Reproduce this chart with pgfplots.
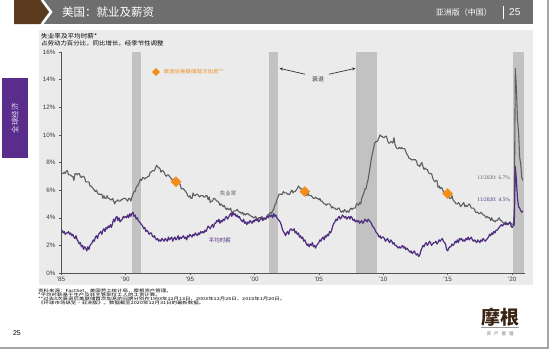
\documentclass[border=0pt]{standalone}
\usepackage{pgfplots}
\pgfplotsset{compat=1.18}
\usepackage{pgfplotstable}
\usepackage{graphicx}
\usepackage{fontspec}
\setmainfont{Liberation Sans}
\newfontfamily\cjk{Noto Sans CJK SC}
\newfontfamily\serifnum{Liberation Serif}
\usetikzlibrary{arrows.meta}
\newcommand{\fs}[2]{\fontsize{#1bp}{#2bp}\selectfont}
\definecolor{hdr}{HTML}{6E6E6E}
\definecolor{jpbrown}{HTML}{5B3A1E}
\definecolor{panel}{HTML}{EBEBEB}
\definecolor{tabpurple}{HTML}{5A2D8C}
\definecolor{unemp}{HTML}{5F5F5F}
\definecolor{wage}{HTML}{4F2D7F}
\definecolor{jporange}{HTML}{F28E1C}
\definecolor{rec}{HTML}{C2C2C2}
\definecolor{axgray}{HTML}{555555}
\definecolor{tickgray}{HTML}{3A3A3A}
\definecolor{logobrown}{HTML}{3A2414}

\pgfplotstableread[row sep=\\]{
u w\\
7.3 3.0\\7.2 3.1\\7.2 2.9\\7.3 3.0\\7.2 2.8\\7.4 2.9\\7.4 2.9\\7.1 3.0\\7.1 2.8\\7.1 2.9\\7.0 2.7\\7.0 2.8\\
6.7 2.6\\7.2 2.5\\7.2 2.7\\7.1 2.4\\7.2 2.3\\7.2 2.1\\7.0 2.2\\6.9 1.9\\7.0 2.0\\7.0 1.7\\6.9 1.9\\6.6 1.8\\
6.6 1.6\\6.6 1.9\\6.6 1.7\\6.3 2.0\\6.3 2.1\\6.2 2.2\\6.1 2.4\\6.0 2.3\\5.9 2.6\\6.0 2.7\\5.8 2.5\\5.7 2.8\\
5.7 2.9\\5.7 3.0\\5.7 2.8\\5.4 3.1\\5.6 3.2\\5.4 3.0\\5.4 3.3\\5.6 3.2\\5.4 3.4\\5.4 3.3\\5.3 3.5\\5.3 3.3\\
5.4 3.6\\5.2 3.9\\5.0 3.7\\5.2 4.0\\5.2 4.1\\5.3 3.8\\5.2 4.0\\5.2 3.7\\5.3 3.8\\5.3 3.9\\5.4 4.1\\5.4 4.0\\
5.4 4.1\\5.3 4.0\\5.2 4.2\\5.4 4.0\\5.4 4.3\\5.2 4.1\\5.5 4.3\\5.7 4.4\\5.9 4.1\\5.9 4.2\\6.2 3.9\\6.3 4.0\\
6.4 3.8\\6.6 3.7\\6.8 3.6\\6.7 3.5\\6.9 3.4\\6.9 3.2\\6.8 3.3\\6.9 3.0\\6.9 3.1\\7.0 3.0\\7.0 2.8\\7.3 2.9\\
7.3 2.9\\7.4 2.7\\7.4 2.6\\7.4 2.7\\7.6 2.5\\7.8 2.4\\7.7 2.5\\7.6 2.3\\7.6 2.4\\7.3 2.3\\7.4 2.5\\7.4 2.4\\
7.3 2.3\\7.1 2.5\\7.0 2.4\\7.1 2.3\\7.1 2.6\\7.0 2.4\\6.9 2.5\\6.8 2.6\\6.7 2.3\\6.8 2.5\\6.6 2.6\\6.5 2.4\\
6.6 2.5\\6.6 2.7\\6.5 2.4\\6.4 2.6\\6.1 2.5\\6.1 2.6\\6.1 2.7\\6.0 2.5\\5.9 2.6\\5.8 2.4\\5.6 2.7\\5.5 2.6\\
5.6 2.8\\5.4 2.7\\5.4 2.6\\5.8 2.8\\5.6 2.7\\5.6 2.9\\5.7 2.8\\5.7 2.7\\5.6 2.9\\5.5 2.8\\5.6 3.0\\5.6 2.9\\
5.6 3.0\\5.5 2.9\\5.5 3.1\\5.6 3.0\\5.6 3.2\\5.3 3.4\\5.5 3.3\\5.1 3.2\\5.2 3.4\\5.2 3.5\\5.4 3.3\\5.4 3.6\\
5.3 3.6\\5.2 3.8\\5.2 3.7\\5.1 3.9\\4.9 3.6\\5.0 3.8\\4.9 3.7\\4.8 3.9\\4.9 3.8\\4.7 4.0\\4.6 4.1\\4.7 3.9\\
4.6 4.0\\4.6 4.2\\4.7 4.3\\4.3 4.1\\4.4 4.4\\4.5 4.2\\4.5 4.3\\4.5 4.1\\4.6 4.2\\4.5 4.0\\4.4 4.1\\4.4 3.9\\
4.3 3.8\\4.4 3.7\\4.2 3.9\\4.3 3.6\\4.2 3.7\\4.3 3.5\\4.3 3.7\\4.2 3.6\\4.2 3.8\\4.1 3.7\\4.1 3.6\\4.0 3.8\\
4.0 3.7\\4.1 3.9\\4.0 3.8\\3.8 3.9\\4.0 3.7\\4.0 3.8\\4.0 4.0\\4.1 3.9\\3.9 3.8\\3.9 4.0\\3.9 3.9\\3.9 4.0\\
4.2 4.1\\4.2 4.0\\4.3 4.2\\4.4 4.1\\4.3 4.2\\4.5 4.0\\4.6 4.3\\4.9 4.1\\5.0 4.2\\5.3 4.0\\5.5 3.9\\5.7 3.8\\
5.7 3.7\\5.7 3.5\\5.7 3.2\\5.9 3.0\\5.8 2.9\\5.8 2.7\\5.8 2.9\\5.7 3.0\\5.7 2.8\\5.7 3.1\\5.9 3.2\\6.0 3.1\\
5.8 3.1\\5.9 3.2\\5.9 2.9\\6.0 3.0\\6.1 2.8\\6.3 2.9\\6.2 2.6\\6.1 2.7\\6.1 2.5\\6.0 2.6\\5.8 2.3\\5.7 2.4\\
5.7 2.2\\5.6 2.0\\5.8 2.1\\5.6 1.9\\5.6 2.1\\5.6 2.0\\5.5 2.2\\5.4 1.9\\5.4 2.0\\5.5 1.8\\5.4 2.0\\5.4 2.1\\
5.3 2.2\\5.4 2.4\\5.2 2.3\\5.2 2.5\\5.1 2.6\\5.0 2.4\\5.0 2.7\\4.9 2.6\\5.0 2.8\\5.0 2.7\\5.0 3.0\\4.9 2.9\\
4.7 3.1\\4.8 3.4\\4.7 3.6\\4.7 3.7\\4.6 3.9\\4.6 3.8\\4.7 4.0\\4.7 4.1\\4.5 3.9\\4.4 4.0\\4.5 4.2\\4.4 4.1\\
4.6 4.0\\4.5 4.1\\4.4 3.9\\4.5 4.0\\4.4 4.1\\4.6 3.9\\4.7 4.1\\4.6 4.0\\4.7 3.8\\4.7 3.9\\4.7 3.7\\5.0 3.8\\
5.0 3.7\\4.9 3.8\\5.1 3.6\\5.0 3.7\\5.4 3.8\\5.6 3.6\\5.8 3.7\\6.1 3.9\\6.1 3.8\\6.5 3.7\\6.8 3.9\\7.3 3.8\\
7.8 3.7\\8.3 3.6\\8.7 3.4\\9.0 3.3\\9.4 3.2\\9.5 3.0\\9.5 2.9\\9.6 2.8\\9.8 2.6\\10.0 2.7\\9.9 2.5\\9.9 2.6\\
9.8 2.6\\9.8 2.5\\9.9 2.3\\9.9 2.4\\9.6 2.5\\9.4 2.3\\9.4 2.2\\9.5 2.4\\9.5 2.3\\9.4 2.1\\9.8 2.2\\9.3 2.0\\
9.1 2.0\\9.0 1.9\\9.0 1.8\\9.1 1.9\\9.0 1.8\\9.1 1.9\\9.0 2.0\\9.0 1.8\\9.0 1.9\\8.8 1.7\\8.6 1.8\\8.5 1.7\\
8.3 1.6\\8.3 1.5\\8.2 1.6\\8.2 1.4\\8.2 1.5\\8.2 1.6\\8.2 1.4\\8.1 1.3\\7.8 1.4\\7.8 1.2\\7.7 1.3\\7.9 1.6\\
8.0 1.8\\7.7 2.0\\7.5 1.9\\7.6 2.1\\7.5 2.2\\7.5 2.0\\7.3 2.1\\7.2 2.3\\7.2 2.2\\7.2 2.0\\6.9 2.1\\6.7 2.2\\
6.6 2.2\\6.7 2.3\\6.7 2.1\\6.2 2.2\\6.3 2.4\\6.1 2.3\\6.2 2.4\\6.1 2.5\\5.9 2.3\\5.7 2.2\\5.8 2.1\\5.6 1.7\\
5.7 1.6\\5.5 1.8\\5.4 1.9\\5.4 1.9\\5.6 2.1\\5.3 2.0\\5.2 2.1\\5.1 2.3\\5.0 2.2\\5.0 2.4\\5.1 2.2\\5.0 2.5\\
4.8 2.4\\4.9 2.5\\5.0 2.3\\5.1 2.4\\4.8 2.3\\4.9 2.5\\4.8 2.4\\4.9 2.6\\5.0 2.4\\4.9 2.5\\4.7 2.6\\4.7 2.4\\
4.7 2.3\\4.6 2.4\\4.4 2.3\\4.4 2.2\\4.4 2.4\\4.3 2.3\\4.3 2.2\\4.4 2.4\\4.3 2.3\\4.2 2.5\\4.2 2.4\\4.1 2.3\\
4.0 2.4\\4.1 2.5\\4.0 2.6\\4.0 2.8\\3.8 2.7\\4.0 2.9\\3.8 2.8\\3.8 3.0\\3.7 2.9\\3.8 3.1\\3.8 3.1\\3.9 3.2\\
4.0 3.3\\3.8 3.4\\3.8 3.5\\3.7 3.4\\3.6 3.5\\3.6 3.6\\3.7 3.5\\3.6 3.6\\3.5 3.5\\3.6 3.6\\3.6 3.7\\3.6 3.4\\
3.5 3.3\\3.5 3.4\\4.4 3.5\\14.8 7.7\\13.3 6.7\\11.1 5.4\\10.2 4.8\\8.4 4.7\\7.9 4.5\\6.9 4.4\\6.7 4.5\\
}\data

\begin{document}
\begin{tikzpicture}[x=1bp,y=1bp]
\useasboundingbox (0,0) rectangle (554,354);
\fill[white] (0,0) rectangle (554,354);
% header
\fill[hdr] (14,330) rectangle (533,354);
\fill[jpbrown] (14,330) -- (14,354) -- (40,354) -- (49,342) -- (40,330) -- cycle;
\draw[white, line width=2.5bp] (42,354) -- (51,342) -- (42,330);
\node[anchor=west, text=white, inner sep=0] at (62,342) {\cjk\fs{11.5}{12}美国：就业及薪资};
\node[anchor=east, text=white, inner sep=0] at (492,341.5) {\cjk\fs{8}{9}亚洲版（中国）};
\draw[white, line width=0.7bp] (503,335) -- (503,348);
\node[anchor=west, text=white, inner sep=0] at (509,342) {\fs{10}{11}25};
% side tab
\fill[tabpurple] (2,196) rectangle (28,276);
\node[rotate=90, text=white!85!tabpurple, inner sep=0] at (15,236) {\cjk\fs{7.5}{8}全球经济};
% panel
\fill[panel] (39,69) rectangle (533,324);
\node[anchor=west, inner sep=0] at (41,318) {\scalebox{1.1}[1]{\cjk\fs{6}{7}失业率及平均时薪*}};
\node[anchor=west, inner sep=0] at (41,311) {\scalebox{1.15}[1]{\cjk\fs{5.6}{6}占劳动力百分比，同比增长，经季节性调整}};
% slide border
\draw[black!35, line width=1.5bp] (0,6) -- (548,6) -- (548,354);
% page number
\node[inner sep=0] at (17,21) {\fs{7}{8}25};
% logo
\node[text=logobrown, inner sep=0] at (500,37) {\cjk\bfseries\fs{19}{20}摩根};
\draw[black!40, line width=0.4bp] (481,27) -- (519,27);
\node[text=black!55, inner sep=0] at (500,20) {\cjk\fs{4.5}{5}资\hspace{3bp}产\hspace{3bp}管\hspace{3bp}理};
% footnotes
\node[anchor=west, inner sep=0] at (38,63) {\scalebox{1.3}[1]{\cjk\fs{4.2}{4.5}资料来源：FactSet，美国劳工统计局，摩根资产管理。}};
\node[anchor=west, inner sep=0] at (38,59) {\scalebox{1.3}[1]{\cjk\fs{4.2}{4.5}*平均时薪基于生产及非主管职位工人的工资计算。}};
\node[anchor=west, inner sep=0] at (38,55) {\scalebox{1.3}[1]{\cjk\fs{4.2}{4.5}**过去3次衰退后美联储首次加息的日期分别在1993年12月13日、2003年12月25日、2015年1月20日。}};
\node[anchor=west, inner sep=0] at (38,51) {\scalebox{1.3}[1]{\cjk\fs{4.2}{4.5}《环球市场纵览 – 亚洲版》。数据截至2020年12月31日的最新数据。}};

\begin{axis}[
  at={(61bp,81bp)}, anchor=south west, scale only axis,
  width=464bp, height=221bp,
  xmin=1985, xmax=2021, ymin=0, ymax=16,
  axis lines=left, axis line style={-, draw=axgray, line width=0.6bp},
  axis on top,
  xtick={1985,1990,1995,2000,2005,2010,2015,2020},
  xticklabels={\mbox{'85},\mbox{'90},\mbox{'95},\mbox{'00},\mbox{'05},\mbox{'10},\mbox{'15},\mbox{'20}},
  ytick={0,2,4,6,8,10,12,14,16},
  tick align=outside, major tick length=2bp,
  tick style={draw=axgray, line width=0.5bp},
  /pgf/number format/assume math mode=true,
  yticklabel={\pgfmathprintnumber{\tick}\%},
  ticklabel style={font=\fs{6.3}{7}, text=tickgray},
  xticklabel style={yshift=1bp},
]
\addplot[fill=rec, draw=none] coordinates {(1990.5,16) (1991.2,16)} \closedcycle;
\addplot[fill=rec, draw=none] coordinates {(2001.17,16) (2001.83,16)} \closedcycle;
\addplot[fill=rec, draw=none] coordinates {(2007.92,16) (2009.5,16)} \closedcycle;
\addplot[fill=rec, draw=none] coordinates {(2020.08,16) (2020.92,16)} \closedcycle;
\addplot[color=unemp, line width=1.1bp, no marks, line join=round] table[x expr=1985+\coordindex/12, y=u] {\data};
\addplot[color=wage, line width=1.2bp, no marks, line join=round] table[x expr=1985+\coordindex/12, y=w] {\data};
\addplot[only marks, mark=square*, mark size=3.6bp, mark options={rotate=45, fill=jporange, draw=jporange}] coordinates {(1993.92,6.6) (2003.92,5.9) (2015.0,5.75)};
\addplot[only marks, mark=square*, mark size=2.6bp, mark options={rotate=45, fill=jporange, draw=jporange}] coordinates {(1992.37,14.55)};
\node[anchor=west, text=jporange, inner sep=0] at (axis cs:1992.95,14.55) {\scalebox{1.1}[1]{\cjk\fs{5}{6}衰退后美联储首次加息**}};
\node[text=black!75, inner sep=0] at (axis cs:2004.94,14.05) {\cjk\fs{6}{7}衰退};
\draw[-{Stealth[length=3.5bp,width=3bp]}, line width=0.7bp, black!80] (axis cs:2003.93,14.39) -- (axis cs:2001.95,14.82);
\draw[-{Stealth[length=3.5bp,width=3bp]}, line width=0.7bp, black!80] (axis cs:2005.79,14.39) -- (axis cs:2007.85,14.82);
\node[text=unemp, inner sep=0] at (axis cs:1997.96,5.79) {\cjk\fs{5.5}{6}失业率};
\node[text=wage, inner sep=0] at (axis cs:1997.33,2.39) {\cjk\fs{5.5}{6}平均时薪};
\node[anchor=east, text=unemp, inner sep=0] at (axis cs:2019.85,6.88) {\serifnum\fs{5.5}{6}11/2020: 6.7\%};
\node[anchor=east, text=wage, inner sep=0] at (axis cs:2019.85,5.29) {\serifnum\fs{5.5}{6}11/2020: 4.5\%};
\end{axis}
\end{tikzpicture}
\end{document}
